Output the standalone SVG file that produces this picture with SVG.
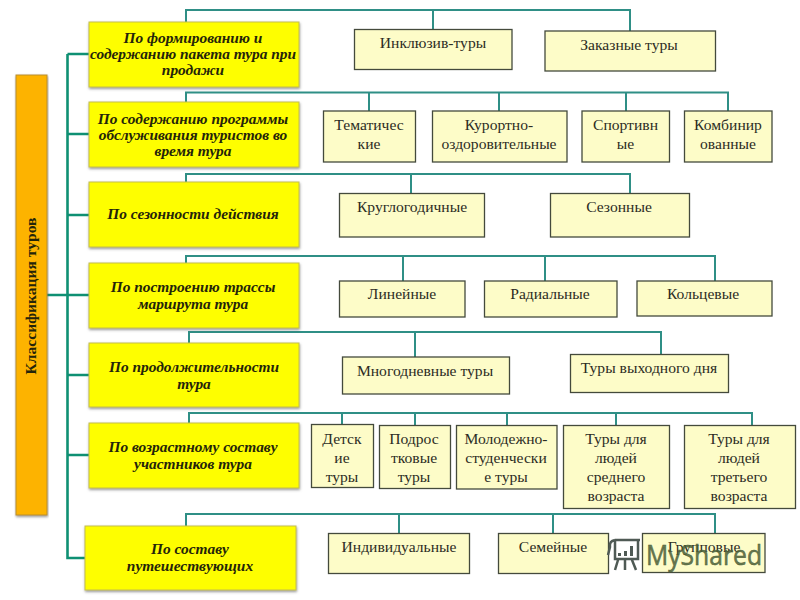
<svg xmlns="http://www.w3.org/2000/svg" width="800" height="600" viewBox="0 0 800 600">
<defs>
<filter id="sh" x="-5%" y="-10%" width="110%" height="125%"><feDropShadow dx="0.5" dy="1.5" stdDeviation="1.2" flood-color="#555" flood-opacity="0.6"/></filter>
</defs>
<style>
.y{fill:#fefe00;stroke:#c4bd50;stroke-width:1;filter:url(#sh)}
.o{fill:#fdb300;stroke:#b98f30;stroke-width:1;filter:url(#sh)}
.b{fill:#fdfcc8;stroke:#444a3c;stroke-width:1.3}
.c{fill:none;stroke:#2f8f86;stroke-width:2}
.t{fill:none;stroke:#0f9073;stroke-width:2.6}
text{font-family:"Liberation Serif","Times New Roman",serif;text-anchor:middle}
.yt{font-size:15.4px;font-weight:bold;font-style:italic;fill:#24240a}
.bt{font-size:15.600px;fill:#2c2c24}
</style>
<rect width="800" height="600" fill="#fff"/>
<g id="connectors">
<path class="t" d="M47 295H89M67.500 558V54M89 54H67.500M89 134H67.500M89 215H67.500M89 375H67.500M89 455H67.500M85 558H66.200"/>
<path class="c" d="M186 22V10H630V31M433 10V29"/>
<path class="c" d="M186 102V92.500H728V111M369 92.500V111M499 92.500V111M626 92.500V111"/>
<path class="c" d="M186 182V174H630V193M411 174V193"/>
<path class="c" d="M186 263V256H715V281M403 256V281M545 256V281"/>
<path class="c" d="M189 343V332H661V354M415 332V357"/>
<path class="c" d="M189 423V413H752V425M342 413V424M415 413V425M507 413V425M616 413V425"/>
<path class="c" d="M186 526V514H715V533M399 514V533M553 514V533"/>
</g>
<g id="root"><rect class="o" x="16" y="75" width="31" height="440"/><text class="yt" style="font-style:normal;font-size:15.600px" transform="translate(36 296) rotate(-90)">Классификация туров</text></g>
<g id="n1"><rect class="y" x="89" y="22" width="210" height="65"/><text class="yt" x="193" y="43">По формированию и</text><text class="yt" x="193" y="59">содержанию пакета тура при</text><text class="yt" x="193" y="75">продажи</text></g>
<g id="n2"><rect class="y" x="89" y="102" width="210" height="65"/><text class="yt" x="193" y="124">По содержанию программы</text><text class="yt" x="193" y="140">обслуживания туристов во</text><text class="yt" x="193" y="156">время тура</text></g>
<g id="n3"><rect class="y" x="89" y="182" width="210" height="65"/><text class="yt" x="193" y="219">По сезонности действия</text></g>
<g id="n4"><rect class="y" x="89" y="263" width="210" height="65"/><text class="yt" x="193" y="292">По построению трассы</text><text class="yt" x="193" y="309">маршрута тура</text></g>
<g id="n5"><rect class="y" x="89" y="343" width="210" height="64"/><text class="yt" x="194" y="372">По продолжительности</text><text class="yt" x="194" y="389">тура</text></g>
<g id="n6"><rect class="y" x="89" y="423" width="210" height="65"/><text class="yt" x="193" y="452">По возрастному составу</text><text class="yt" x="193" y="469">участников тура</text></g>
<g id="n7"><rect class="y" x="85" y="526" width="211" height="64"/><text class="yt" x="190" y="554">По составу</text><text class="yt" x="190" y="571">путешествующих</text></g>
<g id="b11"><rect class="b" x="354.500" y="29.500" width="157.500" height="40"/><text class="bt" x="433" y="48">Инклюзив-туры</text></g>
<g id="b12"><rect class="b" x="545" y="31" width="170.500" height="40"/><text class="bt" x="629" y="50">Заказные туры</text></g>
<g id="b21"><rect class="b" x="323.500" y="111" width="92" height="51"/><text class="bt" x="369" y="130">Тематичес</text><text class="bt" x="369" y="149">кие</text></g>
<g id="b22"><rect class="b" x="432.500" y="111" width="134.500" height="51"/><text class="bt" x="499" y="130">Курортно-</text><text class="bt" x="499" y="149">оздоровительные</text></g>
<g id="b23"><rect class="b" x="582" y="111" width="87.500" height="51"/><text class="bt" x="625.500" y="130">Спортивн</text><text class="bt" x="625.500" y="149">ые</text></g>
<g id="b24"><rect class="b" x="684.500" y="111" width="87.500" height="51"/><text class="bt" x="728" y="130">Комбинир</text><text class="bt" x="728" y="149">ованные</text></g>
<g id="b31"><rect class="b" x="339.500" y="193.500" width="145" height="43.500"/><text class="bt" x="412" y="212">Круглогодичные</text></g>
<g id="b32"><rect class="b" x="550.500" y="193.500" width="139" height="43.500"/><text class="bt" x="619" y="212">Сезонные</text></g>
<g id="b41"><rect class="b" x="339.500" y="281" width="125.500" height="36"/><text class="bt" x="402" y="299">Линейные</text></g>
<g id="b42"><rect class="b" x="484.500" y="281" width="132.500" height="36"/><text class="bt" x="550" y="299">Радиальные</text></g>
<g id="b43"><rect class="b" x="637" y="281" width="135" height="35"/><text class="bt" x="703" y="299">Кольцевые</text></g>
<g id="b51"><rect class="b" x="342.500" y="357" width="167" height="37"/><text class="bt" x="425" y="376">Многодневные туры</text></g>
<g id="b52"><rect class="b" x="570.500" y="354.500" width="158" height="38"/><text class="bt" x="649" y="373">Туры выходного дня</text></g>
<g id="b61"><rect class="b" x="311.500" y="424.500" width="62" height="63"/><text class="bt" x="342" y="444">Детск</text><text class="bt" x="342" y="463">ие</text><text class="bt" x="342" y="482">туры</text></g>
<g id="b62"><rect class="b" x="379.500" y="425.500" width="71" height="63"/><text class="bt" x="414" y="444">Подрос</text><text class="bt" x="414" y="463">тковые</text><text class="bt" x="414" y="482">туры</text></g>
<g id="b63"><rect class="b" x="456.500" y="425.500" width="100.500" height="63.500"/><text class="bt" x="506" y="444">Молодежно-</text><text class="bt" x="506" y="463">студенчески</text><text class="bt" x="506" y="482">е туры</text></g>
<g id="b64"><rect class="b" x="563.500" y="425.500" width="106" height="83"/><text class="bt" x="616" y="444">Туры для</text><text class="bt" x="616" y="463">людей</text><text class="bt" x="616" y="482">среднего</text><text class="bt" x="616" y="501">возраста</text></g>
<g id="b65"><rect class="b" x="684.500" y="425.500" width="111" height="83"/><text class="bt" x="739" y="444">Туры для</text><text class="bt" x="739" y="463">людей</text><text class="bt" x="739" y="482">третьего</text><text class="bt" x="739" y="501">возраста</text></g>
<g id="b71"><rect class="b" x="328.500" y="533.500" width="141" height="40"/><text class="bt" x="399" y="552">Индивидуальные</text></g>
<g id="b72"><rect class="b" x="498.500" y="533.500" width="110" height="40"/><text class="bt" x="553" y="552">Семейные</text></g>
<g id="b73"><rect class="b" x="642.500" y="533.500" width="122.500" height="39"/><text class="bt" x="704" y="552">Групповые</text></g>
<g id="watermark">
<path fill="none" stroke="#4f5a55" stroke-width="2.500" d="M615 540H640M615 540Q609 541 610 547L608 555M615 540V559H638V540M618 560L615 570M625 560V570M632 560L636 570"/>
<path fill="#4f5a55" d="M618 553h3v3h-3zM624 551h3v5h-3zM630 546h3v10h-3z"/>
<text x="704" y="565" style="font-family:'Open Sans','DejaVu Sans',sans-serif;font-size:27px;stroke:#4c6038;stroke-width:.5px" fill="#4c6038" fill-opacity="0.85" textLength="116" lengthAdjust="spacingAndGlyphs">MyShared</text>
</g>
</svg>
